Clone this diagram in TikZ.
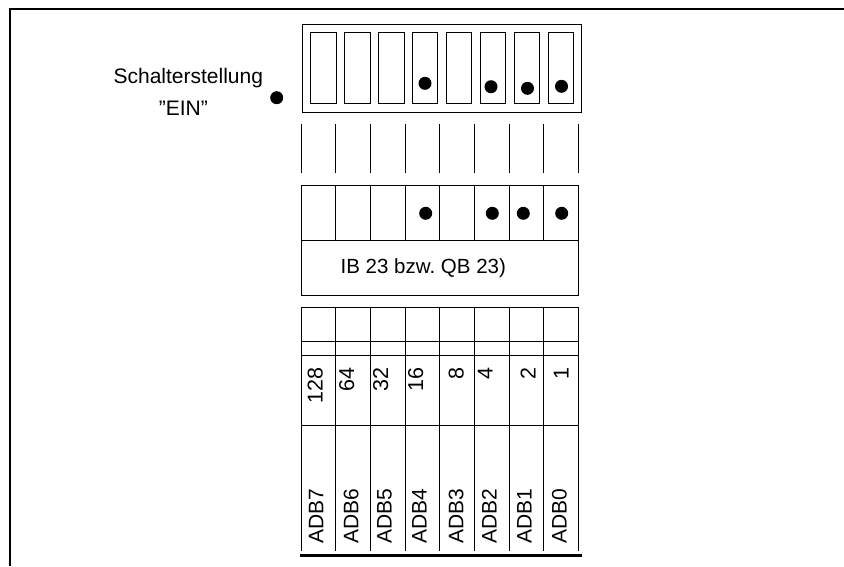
\documentclass[tikz,border=0pt]{standalone}
\usepackage{fontspec}
\setmainfont{Liberation Sans}
\usetikzlibrary{positioning}

\begin{document}
\begin{tikzpicture}[x=1pt, y=-1pt, line width=0.9pt,
    lbl/.style={font=\fontsize{21}{24}\selectfont, inner sep=0pt}]
  \useasboundingbox (0,0) rectangle (844,566);
  % frame
  \draw[line width=1.8pt] (10,566) -- (10,9) -- (844,9);
  % switch block
  \draw (302.7,24) rectangle (581,112);
  \foreach \i in {0,...,7} {
    \draw (310.7+33.9*\i, 32.3) rectangle ++(25.5, 71);
  }
  \foreach \x/\y in {425/83.3, 491/86.7, 527.5/88.3, 561.5/86.3} {
    \fill (\x,\y) circle (6.5);
  }
  % legend
  \node[lbl] (schalter) at (188.3,78) {Schalterstellung};
  \node[lbl] (ein) at (183.3,108) {”EIN”};
  \fill (276.7,97.7) circle (6.5);
  % lines below switches
  \foreach \i in {0,...,8} {
    \draw (301+34.7*\i, 124) -- (301+34.7*\i, 173);
  }
  % bit row
  \draw (301,185) rectangle (578.6,240.7);
  \foreach \i in {1,...,7} {
    \draw (301+34.7*\i, 185) -- (301+34.7*\i, 240.7);
  }
  \foreach \x in {425.7, 492.3, 523.3, 561.7} {
    \fill (\x,213.3) circle (6.5);
  }
  \draw (301,240.7) rectangle (578.6,295);
  \node[lbl, font=\fontsize{20.5}{24}\selectfont] (byte) at (423.3,268) {IB 23 bzw.\ QB 23)};
  % value table
  \foreach \y in {307, 341.7, 355, 425} {
    \draw (301,\y) -- (578.6,\y);
  }
  \foreach \i in {0,...,8} {
    \draw (301+34.7*\i, 307) -- (301+34.7*\i, 551);
  }
  \draw[line width=3pt] (300,555) -- (582,555);
  \foreach \v/\x [count=\n] in {128/322.5, 64/354, 32/388, 16/423, 8/463.5, 4/492.5, 2/535.5, 1/568.5} {
    \node[lbl, font=\fontsize{21.5}{24}\selectfont, rotate=90, anchor=base east] (w\n) at (\x,367) {\v};
  }
  \foreach \b/\x in {7/323.3, 6/358.3, 5/391.7, 4/426.7, 3/463.3, 2/496.7, 1/531.7, 0/566.7} {
    \node[lbl, rotate=90, anchor=base west] (adb\b) at (\x,544) {ADB\b};
  }
\end{tikzpicture}
\end{document}
